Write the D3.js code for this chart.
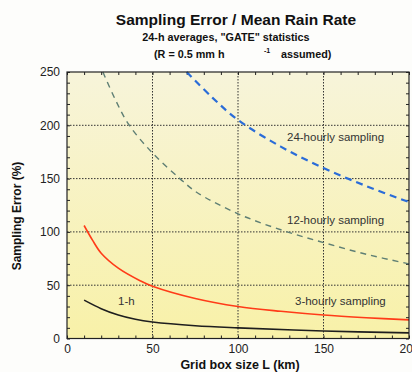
<!DOCTYPE html>
<html><head><meta charset="utf-8">
<script src="https://cdn.jsdelivr.net/npm/d3@7"></script>
<style>html,body{margin:0;padding:0;background:#fdfdfb;overflow:hidden}svg{display:block}</style>
</head><body>
<script>
// Data
const L24 = [70, 85, 100, 125, 150, 175, 200];
const V24 = [250, 226, 205, 180, 160, 143, 128];
const L12 = [21, 28, 36, 50, 66, 76, 100, 125, 150, 175, 200];
const V12 = [250, 225, 201, 174, 150, 137, 117, 102, 90, 79, 70];
const L3 = [10, 15, 20, 30, 43, 50, 75, 100, 125, 150, 175, 200];
const V3 = [106, 92, 80, 66, 54, 49, 37.5, 30, 25.5, 22, 19.5, 17.5];
const L1 = [10, 20, 30, 40, 50, 75, 100, 150, 200];
const V1 = [36, 28, 22, 18, 15.5, 12, 10, 7, 5.3];
const xTicks = [0, 50, 100, 150, 200];
const yTicks = [0, 50, 100, 150, 200, 250];

const W = 412, H = 372;
const m = {left: 67, right: 3, top: 72, bottom: 34};
const svg = d3.select("body").append("svg").attr("width", W).attr("height", H);
const defs = svg.append("defs");
const g = defs.append("linearGradient").attr("id", "bg").attr("x1", 0).attr("y1", 0).attr("x2", 0).attr("y2", 1);
g.append("stop").attr("offset", "0%").attr("stop-color", "#f7f4da");
g.append("stop").attr("offset", "100%").attr("stop-color", "#f8f1a8");

const x = d3.scaleLinear().domain([0, 200]).range([m.left, 409]);
const y = d3.scaleLinear().domain([0, 250]).range([338.5, m.top]);

svg.append("rect").attr("x", x(0)).attr("y", y(250)).attr("width", x(200) - x(0)).attr("height", y(0) - y(250)).attr("fill", "url(#bg)");

// gridlines
const grid = svg.append("g").attr("stroke", "#333").attr("stroke-width", 1).attr("stroke-dasharray", "1.5,1.5");
grid.selectAll(".gx").data(xTicks.filter(d => d > 0 && d < 200)).join("line")
  .attr("x1", d => x(d)).attr("x2", d => x(d)).attr("y1", y(0)).attr("y2", y(250));
grid.selectAll(".gy").data(yTicks.filter(d => d > 0 && d < 250)).join("line")
  .attr("y1", d => y(d)).attr("y2", d => y(d)).attr("x1", x(0)).attr("x2", x(200));

// axes with minor inward ticks on all four sides
const minorX = d3.range(0, 201, 10), minorY = d3.range(0, 251, 10);
const axStyle = sel => { sel.select(".domain").remove(); sel.selectAll("line").attr("stroke", "#222"); };
svg.append("g").attr("transform", `translate(0,${y(0)})`).call(d3.axisBottom(x).tickValues(minorX).tickSize(-3).tickFormat("")).call(axStyle);
svg.append("g").attr("transform", `translate(0,${y(250)})`).call(d3.axisTop(x).tickValues(minorX).tickSize(-3).tickFormat("")).call(axStyle);
svg.append("g").attr("transform", `translate(${x(0)},0)`).call(d3.axisLeft(y).tickValues(minorY).tickSize(-3).tickFormat("")).call(axStyle);
svg.append("g").attr("transform", `translate(${x(200)},0)`).call(d3.axisRight(y).tickValues(minorY).tickSize(-3).tickFormat("")).call(axStyle);

// tick labels
const F = "Liberation Sans, Arial, sans-serif";
const xa = svg.append("g").attr("transform", `translate(0,${y(0)})`)
  .call(d3.axisBottom(x).tickValues(xTicks).tickSize(0).tickPadding(6).tickFormat(d3.format("d")));
xa.select(".domain").remove();
xa.selectAll("text").attr("font-family", F).attr("font-size", 12).attr("fill", "#222");
const ya = svg.append("g").attr("transform", `translate(${x(0)},0)`)
  .call(d3.axisLeft(y).tickValues(yTicks).tickSize(0).tickPadding(7).tickFormat(d3.format("d")));
ya.select(".domain").remove();
ya.selectAll("text").attr("font-family", F).attr("font-size", 12).attr("fill", "#222");

// curves
const line = d3.line().x(d => x(d[0])).y(d => y(d[1])).curve(d3.curveCatmullRom.alpha(0.5));
const zip = (a, b) => a.map((v, i) => [v, b[i]]);
const plot = svg.append("g");
plot.append("path").datum(zip(L24, V24)).attr("d", line).attr("fill", "none").attr("stroke", "#2a6cd8").attr("stroke-width", 2.2).attr("stroke-dasharray", "7,5");
plot.append("path").datum(zip(L12, V12)).attr("d", line).attr("fill", "none").attr("stroke", "#5f7f74").attr("stroke-width", 1.4).attr("stroke-dasharray", "6,5");
plot.append("path").datum(zip(L3, V3)).attr("d", line).attr("fill", "none").attr("stroke", "#ff3b18").attr("stroke-width", 1.6);
plot.append("path").datum(zip(L1, V1)).attr("d", line).attr("fill", "none").attr("stroke", "#1e1e1e").attr("stroke-width", 1.6);

// frame
svg.append("rect").attr("x", x(0)).attr("y", y(250)).attr("width", x(200) - x(0)).attr("height", y(0) - y(250)).attr("fill", "none").attr("stroke", "#222").attr("stroke-width", 1.2);

// in-plot labels
const lab = (t, xx, yy) => svg.append("text").attr("x", xx).attr("y", yy).text(t)
  .attr("font-family", F).attr("font-size", 11.5).attr("fill", "#333");
lab("24-hourly sampling", 287, 141);
lab("12-hourly sampling", 287, 224);
lab("3-hourly sampling", 295, 305);
lab("1-h", 118, 305);

// titles
svg.append("text").attr("x", 236).attr("y", 25).attr("text-anchor", "middle").attr("font-family", F).attr("font-weight", "bold").attr("font-size", 15.5).attr("fill", "#111").text("Sampling Error / Mean Rain Rate");
svg.append("text").attr("x", 226).attr("y", 41).attr("text-anchor", "middle").attr("font-family", F).attr("font-weight", "bold").attr("font-size", 10.8).attr("fill", "#111").text("24-h averages,  \"GATE\" statistics");
const t3 = svg.append("text").attr("x", 154).attr("y", 58).attr("font-family", F).attr("font-weight", "bold").attr("font-size", 10.8).attr("fill", "#111");
t3.append("tspan").text("(R = 0.5 mm h");
t3.append("tspan").attr("x", 264).attr("dy", -5).attr("font-size", 7).text("-1");
t3.append("tspan").attr("x", 281).attr("dy", 5).text("assumed)");

svg.append("text").attr("transform", `translate(21,216) rotate(-90)`).attr("text-anchor", "middle").attr("font-family", F).attr("font-weight", "bold").attr("font-size", 12).attr("fill", "#111").text("Sampling Error  (%)");
svg.append("text").attr("x", 240).attr("y", 369).attr("text-anchor", "middle").attr("font-family", F).attr("font-weight", "bold").attr("font-size", 12.5).attr("fill", "#111").text("Grid box size L (km)");
</script>
</body></html>
